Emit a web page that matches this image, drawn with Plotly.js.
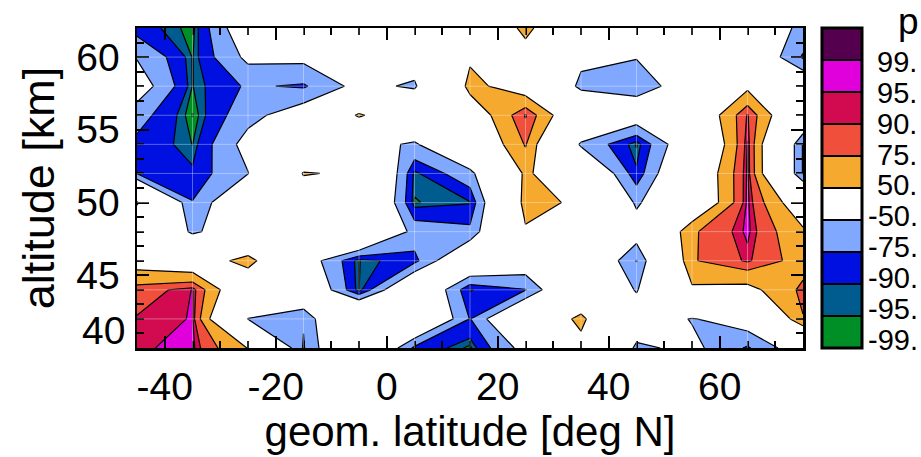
<!DOCTYPE html>
<html>
<head>
<meta charset="utf-8">
<script src="https://cdn.plot.ly/plotly-3.0.1.min.js"></script>
<style>
  html, body { margin: 0; padding: 0; background: #ffffff; }
  #chart { width: 921px; height: 457px; }
</style>
</head>
<body>
<div id="chart"></div>
<script>
// Grid columns: geometric latitude [deg N]
const latitude = [-45, -35, -25, -15, -5, 5, 15, 25, 35, 45, 55, 65, 75];
// Grid rows: altitude [km]
const altitude = [40, 42, 44, 46, 48, 50, 52, 54, 56, 58, 60, 62];

// Significance p [%] along each altitude row, one value per latitude column
const p40 = [94, 97, 49, -77, 20, -80, -97, -38, 39, -56, -42, -78, -27];
const p42 = [91, 95.5, -51, -73, 35, 10, -76, 11, 58, -25, -52, -30, 74];
const p44 = [83, 95.3, 5, -5, -95.3, 2, -91, -76, 10, -53, 45, 40, 80];
const p46 = [35, 20, 65, -29, -95.3, -81.4, -3, -26, 3, -76, 73, 92, 65];
const p48 = [20, -56, -20, 10, 30, -62, -70, 46, 10, -32, 72, 97, 55];
const p50 = [53, -74, -5, 20, 30, -95.5, -91, 62, 43.5, -55.5, 7, 97, 23];
const p52 = [-76, -88, -51, 52.5, 44, -93, -60, 57, 5, -88, 10, 96.5, -77];
const p54 = [-80, -95.2, -38, 0, -35, -55, 9.5, 77, -55, -96, -15, 95.5, -77];
const p56 = [-66, -99.3, -60, -30, 56, 0, 25, 91.5, 8.5, -28, 10, 91.3, -3];
const p58 = [-31, -95.3, -72, -78, -40, -55, 60, 30, -59, -62, -35, 43, -16];
const p60 = [-52, -95.5, -43, -42, -25, -30, 45, 41.5, -41, -49, -25, -10, -78];
const p62 = [-84, -98, -21, -10, 0, 10, 22, 55, 22, -10, -20, -30, -55];

// Contour levels [%] and their colour-bar labels
const levels = [-99, -95, -90, -75, -50, 50, 75, 90, 95, 99];
const levelLabels = ['-99.', '-95.', '-90.', '-75.', '-50.', '50.', '75.', '90.', '95.', '99.'];

const pGrid = [p40, p42, p44, p46, p48, p50, p52, p54, p56, p58, p60, p62];

// Fill colours of the bands, from lowest to highest
const bandColors = ['#008f26', '#005c8e', '#0010e0', '#80a8ff', '#ffffff',
                    '#f6a92f', '#f04f3c', '#d20a50', '#e000dc', '#55004f'];

const FONT = '"Liberation Sans", Arial, Helvetica, sans-serif';

// One constraint contour per level. Positive levels shade everything above
// the level, negative levels everything below it, drawn from the outer
// band inwards so that the inner bands sit on top.
function bandTrace(level, fillAbove, color) {
  return {
    type: 'contour',
    x: latitude,
    y: altitude,
    z: pGrid,
    contours: { type: 'constraint', operation: fillAbove ? '<' : '>', value: level },
    fillcolor: color,
    line: { color: '#000000', width: 1.2, smoothing: 0 },
    showscale: false,
    hoverinfo: 'skip'
  };
}

const traces = [];
// positive side: 50, 75, 90, 95, 99
for (let i = 5; i < levels.length; i++) {
  traces.push(bandTrace(levels[i], true, bandColors[i]));
}
// negative side: -50, -75, -90, -95
for (let i = 4; i >= 1; i--) {
  traces.push(bandTrace(levels[i], false, bandColors[i - 1]));
}
// smallest values below -99
traces.push(bandTrace(levels[0], false, '#ffffff'));

const shapes = [];
// faint grid of the data columns and rows
latitude.slice(1, -1).forEach(function (lat) {
  shapes.push({ type: 'line', xref: 'x', yref: 'paper', x0: lat, x1: lat, y0: 0, y1: 1,
                line: { color: 'rgba(255,255,255,0.35)', width: 1 }, layer: 'above' });
});
altitude.slice(1, -1).forEach(function (alt) {
  shapes.push({ type: 'line', xref: 'paper', yref: 'y', x0: 0, x1: 1, y0: alt, y1: alt,
                line: { color: 'rgba(255,255,255,0.35)', width: 1 }, layer: 'above' });
});

// colour bar: ten equal boxes, one per band
const cbX0 = 1.0285, cbX1 = 1.0886;
const nBands = bandColors.length;
bandColors.forEach(function (c, i) {
  shapes.push({ type: 'rect', xref: 'paper', yref: 'paper',
                x0: cbX0, x1: cbX1, y0: i / nBands, y1: (i + 1) / nBands,
                fillcolor: c, line: { color: '#000000', width: 2 } });
});
shapes.push({ type: 'rect', xref: 'paper', yref: 'paper', x0: cbX0, x1: cbX1, y0: 0, y1: 1,
              fillcolor: 'rgba(0,0,0,0)', line: { color: '#000000', width: 3 } });

const annotations = [];
// colour-bar labels, bottom to top
levelLabels.forEach(function (txt, i) {
  const neg = txt.charAt(0) === '-';
  annotations.push({
    xref: 'paper', yref: 'paper', x: 1.0946, y: 0.025 + i * 0.0966,
    xanchor: 'left', yanchor: 'middle', xshift: neg ? 0 : 9,
    text: txt, showarrow: false,
    font: { family: FONT, size: 29, color: '#000000' }
  });
});
// colour-bar title
annotations.push({
  xref: 'paper', yref: 'paper', x: 1.140, y: 1.019, xanchor: 'left', yanchor: 'middle',
  text: 'p', showarrow: false, font: { family: FONT, size: 37, color: '#000000' }
});

// y tick values; the lowest label sits just above the corner
const yTicks = [40, 45, 50, 55, 60];
annotations.push({
  xref: 'paper', yref: 'y', x: 0, y: yTicks[0], xanchor: 'right', yanchor: 'bottom',
  xshift: -10, yshift: -6, text: String(yTicks[0]), showarrow: false,
  font: { family: FONT, size: 39, color: '#000000' }
});

const xTicks = [-40, -20, 0, 20, 40, 60];

const layout = {
  width: 921, height: 457,
  margin: { l: 137, r: 118, t: 28, b: 109, pad: 0 },
  paper_bgcolor: '#ffffff',
  plot_bgcolor: '#ffffff',
  showlegend: false,
  font: { family: FONT, color: '#000000' },
  xaxis: {
    range: [-45, 75],
    tickmode: 'array', tickvals: xTicks, ticktext: xTicks.map(String),
    ticks: 'inside', ticklen: 12, tickwidth: 2, tickcolor: '#000000',
    minor: { dtick: 5, tick0: -45, ticks: 'inside', ticklen: 7, tickwidth: 2, tickcolor: '#000000' },
    showline: true, linecolor: '#000000', linewidth: 2.5, mirror: 'allticks',
    showgrid: false, zeroline: false,
    tickfont: { family: FONT, size: 39 },
    ticklabelstandoff: 3,
    title: { text: 'geom. latitude [deg N]', font: { family: FONT, size: 42 }, standoff: 0 },
    automargin: false
  },
  yaxis: {
    range: [40, 62],
    tickmode: 'array', tickvals: yTicks, ticktext: yTicks.map(function (v, i) { return i === 0 ? '' : String(v); }),
    ticks: 'inside', ticklen: 12, tickwidth: 2, tickcolor: '#000000',
    minor: { dtick: 1, tick0: 40, ticks: 'inside', ticklen: 7, tickwidth: 2, tickcolor: '#000000' },
    showline: true, linecolor: '#000000', linewidth: 2.5, mirror: 'allticks',
    showgrid: false, zeroline: false,
    tickfont: { family: FONT, size: 39 },
    ticklabelstandoff: 7,
    title: { text: 'altitude [km]', font: { family: FONT, size: 45 }, standoff: 8 },
    automargin: false
  },
  shapes: shapes,
  annotations: annotations
};

Plotly.newPlot('chart', traces, layout, { staticPlot: true, displayModeBar: false });
</script>
</body>
</html>
